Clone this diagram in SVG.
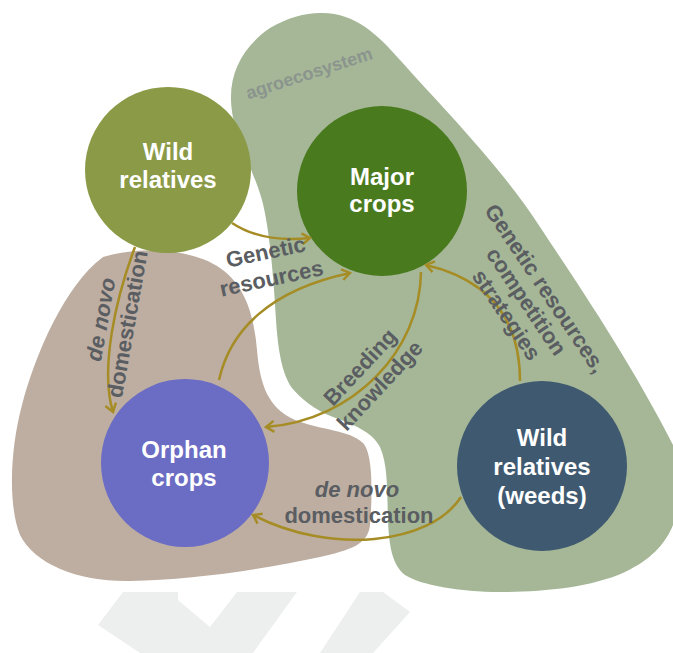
<svg xmlns="http://www.w3.org/2000/svg" width="673" height="653" viewBox="0 0 673 653">
<style>
.node-label{font-family:"Liberation Sans",Arial,sans-serif;font-weight:bold;font-size:24px;fill:#ffffff;text-anchor:middle}
.lbl{font-family:"Liberation Sans",Arial,sans-serif;font-weight:bold;font-size:22px;fill:#5a5d61;text-anchor:middle}
.it{font-style:italic}
.conn{fill:none;stroke:#a68c24;stroke-width:2.5;marker-end:url(#ah)}
.wm{fill:#edefee}
</style>
<defs>
<marker id="ah" markerWidth="14" markerHeight="14" viewBox="-12 -7 14 14" refX="0" refY="0" orient="auto" markerUnits="userSpaceOnUse">
<path d="M-8,-5.5 L0,0 L-8,5.5" fill="none" stroke="#a68c24" stroke-width="2.4" stroke-linejoin="miter"/>
</marker>
</defs>
<rect width="673" height="653" fill="#ffffff"/>
<g id="watermark">
<polygon class="wm" points="123,592 178,592 178,600 210,627 237,592 297,592 253,653 140,653 98,625"/>
<polygon class="wm" points="360,592 383,592 410,612 373,653 320,653"/>
</g>
<g id="agroecosystem">
<path d="M320,13 C355,12 378,35 400,60 C440,105 500,165 540,227 C575,280 630,360 673,445 L673,525 C665,545 650,560 625,572 C590,588 540,592 500,592 C460,592 420,585 405,575 C392,565 389,545 388,520 C387,490 388,465 380,447 C372,432 355,425 333,417 C315,410 300,398 292,388 C282,374 278,350 276,320 C274,285 270,230 262,200 C252,165 232,135 231,100 C230,70 245,45 270,28 C287,18 305,13 320,13 Z" fill="#a5b797"/>
<text x="311" y="79" transform="rotate(-18 311 79)" style="font-family:'Liberation Sans',Arial,sans-serif;font-weight:bold;font-size:18px;fill:#8b958e;text-anchor:middle">agroecosystem</text>
</g>
<g id="orphan-region">
<path d="M103,257 C135,247 190,247 220,268 C245,285 254,315 257,350 C260,385 268,408 295,420 C320,430 350,430 363,443 C374,455 372,500 370,525 C368,545 350,550 320,557 C260,570 190,580 130,581 C80,582 35,565 20,535 C8,505 10,450 22,405 C35,355 65,285 103,257 Z" fill="#bdaea1"/>
</g>
<g id="wild-relatives">
<circle cx="168" cy="170" r="83" fill="#8b9a46"/>
<text class="node-label" x="168" y="160">Wild</text>
<text class="node-label" x="168" y="188">relatives</text>
</g>
<g id="major-crops">
<circle cx="382" cy="191" r="85" fill="#4a7a1e"/>
<text class="node-label" x="382" y="185">Major</text>
<text class="node-label" x="382" y="212">crops</text>
</g>
<g id="orphan-crops">
<circle cx="185" cy="463" r="84" fill="#6b6cc3"/>
<text class="node-label" x="184" y="458">Orphan</text>
<text class="node-label" x="184" y="486">crops</text>
</g>
<g id="wild-relatives-weeds">
<circle cx="542" cy="466" r="85" fill="#3f5a70"/>
<text class="node-label" x="542" y="446">Wild</text>
<text class="node-label" x="542" y="475">relatives</text>
<text class="node-label" x="542" y="504">(weeds)</text>
</g>
<g id="connectors">
<path class="conn" d="M232,223 Q262,243 310,238"/>
<path class="conn" d="M219,380 C230,330 270,290 350,273"/>
<path class="conn" d="M421,272 C420,350 355,420 266,427"/>
<path class="conn" d="M520,381 C520,320 490,280 426,265"/>
<path class="conn" d="M461,497 C430,545 330,555 253,515"/>
<path class="conn" d="M135,247 C115,300 100,370 113,412"/>
</g>
<g id="labels">
<g transform="translate(270,272) rotate(-12)">
<text class="lbl" x="0" y="-13">Genetic</text>
<text class="lbl" x="0" y="14">resources</text>
</g>
<g transform="translate(121,323) rotate(-80)">
<text class="lbl it" x="0" y="-13">de novo</text>
<text class="lbl" x="0" y="14">domestication</text>
</g>
<g transform="translate(375,381) rotate(-47)">
<text class="lbl" x="0" y="-13">Breeding</text>
<text class="lbl" x="0" y="14">knowledge</text>
</g>
<g transform="translate(521,305) rotate(56)">
<text class="lbl" x="0" y="-22">Genetic resources,</text>
<text class="lbl" x="0" y="1">competition</text>
<text class="lbl" x="0" y="25">strategies</text>
</g>
<text class="lbl it" x="357" y="497">de novo</text>
<text class="lbl" x="359" y="523">domestication</text>
</g>
</svg>
